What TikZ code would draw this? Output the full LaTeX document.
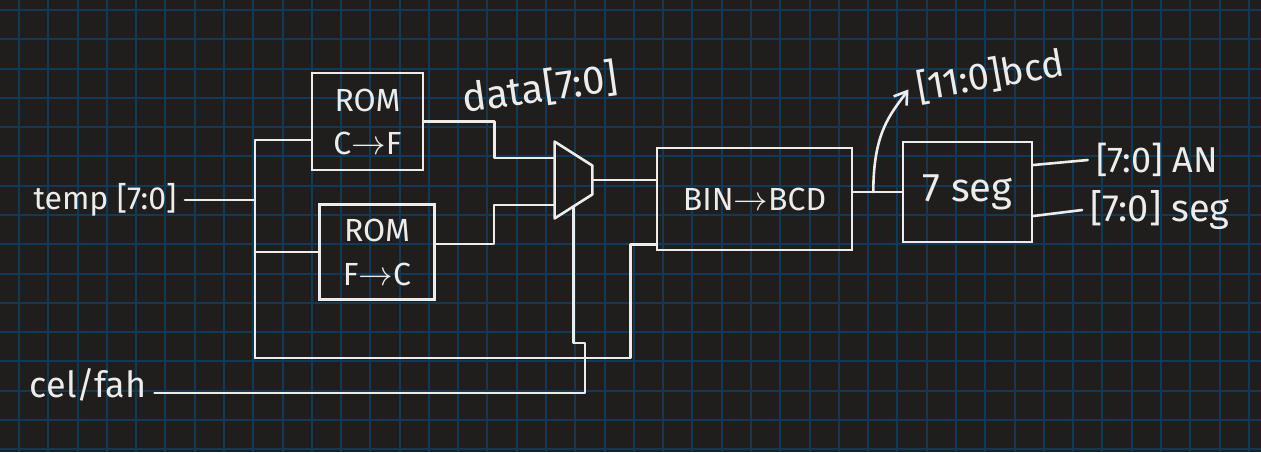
\documentclass[tikz,border=0pt]{standalone}
\usepackage{fontspec}
\setmainfont{Fira Sans}
\usetikzlibrary{calc,arrows.meta,positioning}
\definecolor{board}{RGB}{31,30,29}
\definecolor{gridblue}{RGB}{17,58,86}
\definecolor{chalk}{RGB}{236,236,236}

\begin{document}
\begin{tikzpicture}[x=0.5pt, y=-0.5pt,
    every node/.style={text=chalk, inner sep=4pt},
    block/.style={draw=chalk, line width=1.3pt, align=center, inner sep=0pt},
    wire/.style={draw=chalk, line width=1.3pt, line cap=round, line join=round},
    gridline/.style={draw=gridblue, line width=1pt},
    muxframe/.style={minimum width=18.5pt, minimum height=38pt, inner sep=0pt}]

  % board and grid
  \useasboundingbox (0,0) rectangle (1261,452);
  \fill[board] (0,0) rectangle (1261,452);
  \foreach \i in {0,...,42}
    \draw[gridline] ({19+29.28*\i},0) -- ({19+29.28*\i},452);
  \foreach \j in {0,...,15}
    \draw[gridline] (0,{10+29.28*\j}) -- (1261,{10+29.28*\j});

  % blocks
  \node[block, minimum width=55.5pt, minimum height=48.5pt,
        font=\fontsize{16}{21.5}\selectfont] (romcf) at (367.5,121.5) {ROM\\C$\to$F};
  \node[block, minimum width=57.5pt, minimum height=47.5pt,
        font=\fontsize{16}{22}\selectfont] (romfc) at (377,252) {ROM\\F$\to$C};
  \node[muxframe] (mux) at (573.5,180) {};
  \draw[wire] (mux.north west) -- (mux.south west) -- ($(mux.south east)+(0,-24)$)
    -- ($(mux.north east)+(0,24)$) -- cycle;
  \node[block, minimum width=97.5pt, minimum height=51pt,
        font=\fontsize{16}{19}\selectfont] (bcd) at (754.5,199) {BIN$\to$BCD};
  \node[block, minimum width=64.5pt, minimum height=50pt,
        font=\fontsize{20}{24}\selectfont] (seg) at (967.5,192) {7 seg};

  % labels
  \node[font=\fontsize{16}{19}\selectfont] (temp) at (105,200) {temp [7:0]};
  \node[font=\fontsize{18}{21}\selectfont] (celfah) at (88,385) {cel/fah};
  \node[font=\fontsize{20}{24}\selectfont, rotate=8] (data) at (540,88) {data[7:0]};
  \node[font=\fontsize{19}{23}\selectfont, rotate=10] (bcdlbl) at (990,75) {[11:0]bcd};
  \node[font=\fontsize{18}{21}\selectfont] (an) at (1157,160) {[7:0] AN};
  \node[font=\fontsize{19}{23}\selectfont] (sg) at (1160,210) {[7:0] seg};

  % pins
  \coordinate (busT) at (255,140);
  \coordinate (busB) at (255,358);
  \coordinate (muxA) at ($(mux.west)+(0,-22)$);
  \coordinate (muxB) at ($(mux.west)+(0,25)$);
  \coordinate (muxS) at ($(mux.south)+(0,-12)$);
  \coordinate (bcdB) at ($(bcd.south west)+(0,-7)$);
  \coordinate (selJog) at (585,343);
  \coordinate (celIn) at ($(celfah.east)+(0,8)$);
  \coordinate (tap) at ($(bcd.east |- seg.west)+(20,0)$);

  % input bus
  \draw[wire] (temp.east) -- (temp.east -| busT);
  \draw[wire] (romcf.west |- busT) -- (busT) -- (busB);
  \draw[wire] (busT |- romfc.west) -- (romfc.west);
  \draw[wire] (busB) -| ($(bcdB)+(-25,0)$) -- (bcdB);

  % rom outputs into the mux
  \draw[wire] (romcf.east) -- ++(70,0) |- (muxA);
  \draw[wire] ($(romfc.east)+(0,-8)$) -- ++(58,0) |- (muxB);

  % mux out and select
  \draw[wire] (mux.east) -- (mux.east -| bcd.west);
  \draw[wire] (muxS) |- (selJog) |- (celIn);

  % bcd out
  \draw[wire] (bcd.east |- seg.west) -- (seg.west);
  \draw[wire, -{Straight Barb[length=6pt,width=8pt]}] (tap)
    .. controls ($(tap)+(0,-60)$) and ($(bcdlbl.west)+(-18,25)$) .. (bcdlbl.west);

  % display outputs
  \draw[wire] ($(seg.east)+(0,-27)$) -- (an.west);
  \draw[wire] ($(seg.east)+(0,24)$) -- (sg.west);

\end{tikzpicture}
\end{document}
